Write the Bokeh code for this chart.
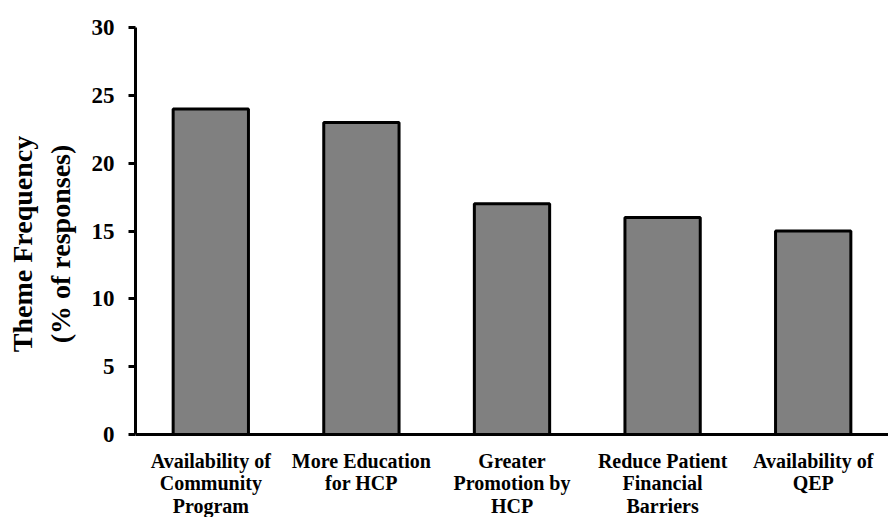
from bokeh.plotting import figure
from bokeh.models import ColumnDataSource, Range1d, FixedTicker, Span
from bokeh.layouts import column
from bokeh.core.properties import value
from bokeh.embed import file_html
from bokeh.resources import INLINE

categories = ["Availability of Community Program", "More Education for HCP",
              "Greater Promotion by HCP", "Reduce Patient Financial Barriers",
              "Availability of QEP"]
tick_labels = ["Availability of\nCommunity\nProgram", "More Education\nfor HCP",
               "Greater\nPromotion by\nHCP", "Reduce Patient\nFinancial\nBarriers",
               "Availability of\nQEP"]
values = [24, 23, 17, 16, 15]
y_ticks = [0, 5, 10, 15, 20, 25, 30]

FONT = "Liberation Serif"
W = 888
TOP = 27                  # frame top (value 30)
ZERO = 434                # pixel row of value 0
PAD = 12                  # room under the zero line (axis line and "0" label)
H1 = ZERO + PAD
LABEL_H = 517 - H1
px_per_unit = (ZERO - TOP) / 30.0

p = figure(width=W, height=H1, x_range=categories,
           y_range=Range1d(-PAD / px_per_unit, 30), output_backend="svg",
           toolbar_location=None, min_border_left=135, min_border_right=0,
           min_border_top=TOP, min_border_bottom=0)
p.outline_line_color = None
p.xgrid.grid_line_color = None
p.ygrid.grid_line_color = None
p.x_range.range_padding = 0
p.xaxis.visible = False

src = ColumnDataSource(dict(cat=categories, val=values))
p.vbar(x="cat", top="val", width=0.5, source=src, fill_color="#808080",
       line_color="black", line_width=3)

# x axis line (value 0 baseline)
p.add_layout(Span(location=0, dimension="width", line_color="black",
                  line_width=3))

# y axis
ya = p.yaxis[0]
ya.ticker = FixedTicker(ticks=y_ticks)
ya.bounds = (0, 30)
ya.axis_line_width = 3
ya.axis_line_color = "black"
ya.major_tick_line_width = 3
ya.major_tick_in = 0
ya.major_tick_out = 7
ya.minor_tick_line_color = None
ya.major_label_text_font = FONT
ya.major_label_text_font_style = "bold"
ya.major_label_text_font_size = "23px"
ya.major_label_text_color = "black"
ya.major_label_standoff = 14
NB = "\u00a0" * 2
ya.axis_label = "Theme Frequency" + NB + "\n(% of responses)" + NB
ya.axis_label_text_font = FONT
ya.axis_label_text_font_style = "bold"
ya.axis_label_text_font_size = "28px"
ya.axis_label_text_color = "black"
ya.axis_label_standoff = 13

# label strip sharing the category range
q = figure(width=W, height=LABEL_H, x_range=p.x_range,
           y_range=Range1d(LABEL_H, 0), output_backend="svg",
           toolbar_location=None, min_border_left=135, min_border_right=0,
           min_border_top=0, min_border_bottom=0)
q.outline_line_color = None
q.axis.visible = False
q.grid.visible = False

first_base = 467 - H1 - 7
pitch = 22.5
lx, ly, lt = [], [], []
for cat, lab in zip(categories, tick_labels):
    for i, line in enumerate(lab.split("\n")):
        lx.append(cat)
        ly.append(first_base + i * pitch)
        lt.append(line)
lsrc = ColumnDataSource(dict(x=lx, y=ly, t=lt))
q.text(x="x", y="y", text="t", source=lsrc, text_font=value(FONT),
       text_font_style="bold", text_font_size="20px", text_color="black",
       text_align="center", text_baseline="alphabetic")

layout = column(p, q, spacing=0)
open("out.html", "w").write(file_html(layout, INLINE))
